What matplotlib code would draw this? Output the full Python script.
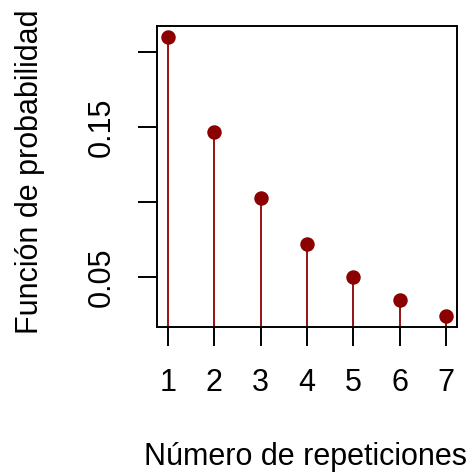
import matplotlib
matplotlib.use("Agg")
import matplotlib.pyplot as plt

plt.rcParams['font.family'] = ['Liberation Sans', 'DejaVu Sans']

repeticiones = [1, 2, 3, 4, 5, 6, 7]
probabilidad = [0.21, 0.147, 0.1029, 0.0720, 0.0504, 0.0353, 0.0247]
yticks = [0.05, 0.10, 0.15, 0.20]
ytick_labels = ["0.05", "", "0.15", ""]

color = "#8B0000"
W = H = 474
fig = plt.figure(figsize=(4.74, 4.74), dpi=100)
ax = fig.add_axes([156.7/W, 1-326.7/H, (457-156.7)/W, (326.7-25.7)/H])

ymin = min(probabilidad) - 0.04*(max(probabilidad)-min(probabilidad))
ymax = max(probabilidad) + 0.04*(max(probabilidad)-min(probabilidad))
xmin = min(repeticiones) - 0.04*(max(repeticiones)-min(repeticiones))
xmax = max(repeticiones) + 0.04*(max(repeticiones)-min(repeticiones))

ax.vlines(repeticiones, 0, probabilidad, color=color, lw=1.3, zorder=2)
ax.plot(repeticiones, probabilidad, 'o', color=color, markersize=9.4, zorder=3, clip_on=False)
ax.set_xlim(xmin, xmax)
ax.set_ylim(ymin, ymax)

ax.set_xticks(repeticiones)
ax.set_xticklabels([str(r) for r in repeticiones])
ax.set_yticks(yticks)
ax.set_yticklabels(ytick_labels, rotation=90, va='center')

for s in ax.spines.values():
    s.set_linewidth(1.4)
ax.tick_params(axis='both', length=13.7, width=1.4, labelsize=22)
ax.tick_params(axis='x', pad=16)
ax.tick_params(axis='y', pad=15)

fig.text(306/W, 1-457/H, "Número de repeticiones", fontsize=22, ha='center', va='center')
fig.text(30/W, 1-172/H, "Función de probabilidad", fontsize=22, ha='center', va='center', rotation=90)

fig.savefig("out.png", dpi=100)
